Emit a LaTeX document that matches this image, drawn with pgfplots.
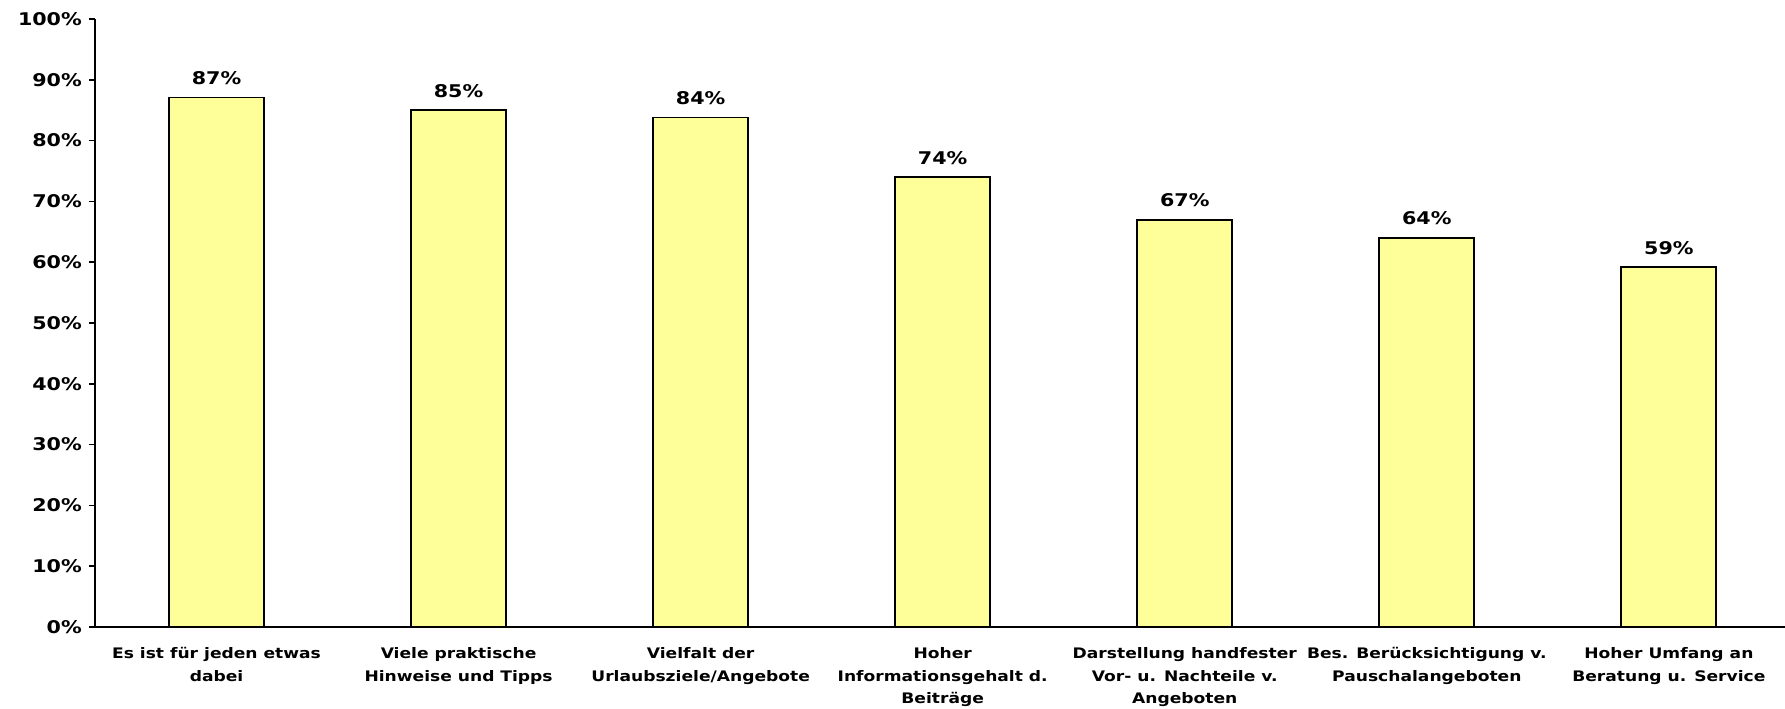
\documentclass[border=0pt]{standalone}
\usepackage{pgfplots}
\pgfplotsset{compat=1.18}
\usepackage{fontspec}
\setmainfont{DejaVu Sans}[FakeStretch=1.18]
\definecolor{barfill}{HTML}{FFFF99}

\begin{document}
\begin{tikzpicture}
\useasboundingbox (-95.5bp,-82bp) rectangle (1689.5bp,627bp);
\begin{axis}[
    at={(0,0)}, anchor=south west,
    scale only axis,
    width=1694.5bp, height=608bp,
    ybar, bar width=95bp,
    xmin=-0.5, xmax=6.5,
    ymin=0, ymax=100,
    axis x line=bottom, axis y line=left,
    axis line style={-, line width=2bp},
    tick style={line width=1.6bp, black},
    tick align=outside,
    major tick length=6.5bp,
    ytick={0,10,...,100},
    yticklabels={0\%,10\%,20\%,30\%,40\%,50\%,60\%,70\%,80\%,90\%,100\%},
    xtick={0,...,6},
    major x tick style={draw=none},
    xticklabels={
        {Es ist für jeden etwas\\dabei},
        {Viele praktische\\Hinweise und Tipps},
        {Vielfalt der\\Urlaubsziele/Angebote},
        {Hoher\\Informationsgehalt d.\\Beiträge},
        {Darstellung handfester\\Vor- u. Nachteile v.\\Angeboten},
        {Bes. Berücksichtigung v.\\Pauschalangeboten},
        {Hoher Umfang an\\Beratung u. Service}
    },
    extra x ticks={-0.5,0.5,1.5,2.5,3.5,4.5,5.5,6.5},
    extra x tick labels={},
    extra x tick style={major tick length=7bp, tick style={line width=1.6bp, black}},
    xticklabel style={align=center, anchor=north, inner sep=0pt,
        font=\bfseries\fontsize{14.5bp}{22.5bp}\selectfont, yshift=-14bp},
    yticklabel style={anchor=east, inner sep=0pt,
        font=\bfseries\fontsize{17.5bp}{20bp}\selectfont, xshift=-7bp},
    point meta=explicit symbolic,
    nodes near coords,
    every node near coord/.append style={anchor=base, inner sep=0pt,
        font=\bfseries\fontsize{17.5bp}{20bp}\selectfont, yshift=13bp},
    clip=false,
]
\addplot[fill=barfill, draw=black, line width=1.8bp] coordinates {
    (0,87.1) [87\%]
    (1,85.0) [85\%]
    (2,83.8) [84\%]
    (3,74.0) [74\%]
    (4,67.0) [67\%]
    (5,64.0) [64\%]
    (6,59.2) [59\%]
};
\end{axis}
\end{tikzpicture}
\end{document}
